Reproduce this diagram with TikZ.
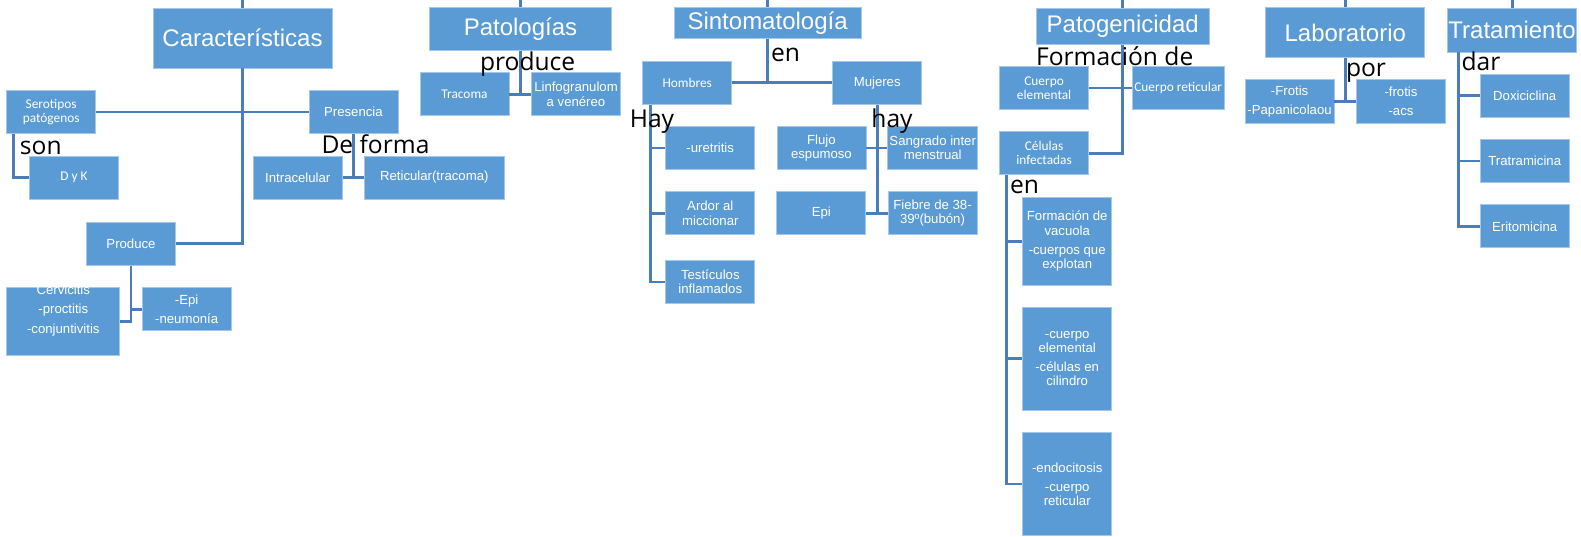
\documentclass[tikz,border=0pt]{standalone}
\usepackage{fontspec}
\setmainfont{Liberation Sans}
\newfontfamily\calfont{Carlito}
\newfontfamily\lblfont{Open Sans}
\usepackage{xcolor}
\definecolor{boxblue}{RGB}{91,155,213}
\definecolor{linkblue}{RGB}{74,126,187}
\newdimen\pxu \pxu=0.02cm

\begin{document}
\begin{tikzpicture} [
    x=0.02cm, y=-0.02cm,
    head/.style   = { rectangle, fill=boxblue, draw=boxblue!55!white, line width=0.4pt,
                      text=white, inner sep=0pt, font=\fontsize{13.66}{16}\selectfont },
    block/.style  = { rectangle, fill=boxblue, draw=boxblue!55!white, line width=0.4pt,
                      text=white, inner sep=1pt, align=center,
                      minimum width=89*\pxu, minimum height=43*\pxu,
                      font=\fontsize{7.5}{8}\selectfont },
    cblock/.style = { block, font=\calfont\fontsize{7.6}{8}\selectfont },
    word/.style   = { anchor=base, inner sep=0pt, font=\lblfont\fontsize{14}{16}\selectfont },
    line/.style   = { draw=linkblue, line width=1.7pt },
  ]
  \path [use as bounding box, fill=white] (0,0) rectangle (1581,537);

  % headings
  \node [head, minimum width=179*\pxu, minimum height=60*\pxu] (carac) at (242.5,38)   {Características};
  \node [head, minimum width=182*\pxu, minimum height=43*\pxu] (patol) at (520.5,29.3) {Patologías};
  \node [head, minimum width=187*\pxu, minimum height=31*\pxu] (sinto) at (767.6,23.3) {Sintomatología};
  \node [head, minimum width=173*\pxu, minimum height=36*\pxu] (patog) at (1122.7,26.2) {Patogenicidad};
  \node [head, minimum width=159*\pxu, minimum height=50*\pxu] (labor) at (1345.3,32.8) {Laboratorio};
  \node [head, minimum width=129*\pxu, minimum height=44*\pxu] (trata) at (1512,30)     {Tratamiento};

  \coordinate (t1) at (242.5,0);
  \coordinate (t2) at (520.5,0);
  \coordinate (t3) at (767.6,0);
  \coordinate (t4) at (1122.7,0);
  \coordinate (t5) at (1345.3,0);
  \coordinate (t6) at (1512,0);

  % caracteristicas
  \node [cblock] (serot)  at (51.2,112)   {Serotipos\\patógenos};
  \node [block]  (presen) at (353.4,112)  {Presencia};
  \node [cblock] (dyk)    at (74,177.5)   {D y K};
  \node [block]  (intrac) at (297.8,177.5) {Intracelular};
  \node [block, minimum width=140*\pxu] (reticu) at (434.3,177.5) {Reticular(tracoma)};
  \node [block]  (produ)  at (131,243.8)  {Produce};
  \node [block, minimum width=113*\pxu, minimum height=68*\pxu, text height=15pt] (cervi) at (63.3,321.5)
        {Cervicitis\\[3pt]-proctitis\\[3pt]-conjuntivitis};
  \node [block]  (epineu) at (186.7,309.2) {-Epi\\[3pt]-neumonía};

  % patologias
  \node [cblock] (tracom) at (464.5,94.3) {Tracoma};
  \node [block]  (linfog) at (576,94.3)   {Linfogranulom\\a venéreo};

  % sintomatologia
  \node [cblock] (hombr) at (687.2,82.8)  {Hombres};
  \node [block]  (mujer) at (877.2,82.8)  {Mujeres};
  \node [block]  (uretr) at (710.2,148)   {-uretritis};
  \node [block]  (ardor) at (710.3,213.3) {Ardor al\\miccionar};
  \node [block]  (testi) at (710.3,282)   {Testículos\\inflamados};
  \node [block]  (flujo) at (821.4,148)   {Flujo\\espumoso};
  \node [block]  (sangr) at (932.7,148)   {Sangrado inter\\menstrual};
  \node [block]  (epimu) at (821.3,213.3) {Epi};
  \node [block]  (fiebr) at (932.5,213.3) {Fiebre de 38-\\39º(bubón)};

  % patogenicidad
  \node [cblock] (celem)  at (1044.1,88)    {Cuerpo\\elemental};
  \node [cblock] (cretic) at (1178.2,88)    {Cuerpo reticular};
  \node [cblock] (celul)  at (1044.1,153.3) {Células\\infectadas};
  \node [block, minimum height=88*\pxu]  (vacuo) at (1067.2,241.2)
        {Formación de\\vacuola\\[3pt]-cuerpos que\\explotan};
  \node [block, minimum height=103*\pxu] (cilin) at (1067.2,358.7)
        {-cuerpo\\elemental\\[3pt]-células en\\cilindro};
  \node [block, minimum height=103*\pxu] (endoc) at (1067.2,484)
        {-endocitosis\\[3pt]-cuerpo\\reticular};

  % laboratorio y tratamiento
  \node [block, minimum height=44*\pxu] (frotA) at (1289.6,101.5) {-Frotis\\[3pt]-Papanicolaou};
  \node [block, minimum height=44*\pxu] (frotB) at (1401,101.5)   {-frotis\\[3pt]-acs};
  \node [block] (doxic) at (1524.7,95.7)  {Doxiciclina};
  \node [block] (tratr) at (1524.7,161)   {Tratramicina};
  \node [block] (eritr) at (1524.7,226.3) {Eritomicina};

  % connect all nodes defined above
  \begin{scope} [every path/.style=line]
    \path (t1) -- (carac);
    \path (t2) -- (patol);
    \path (t3) -- (sinto);
    \path (t4) -- (patog);
    \path (t5) -- (labor);
    \path (t6) -- (trata);

    \path (carac) |- (produ);
    \path (serot) -- (presen);
    \path (serot.south west) ++(7.5,0) |- (dyk);
    \path (presen) -- (presen |- intrac);
    \path (intrac) -- (reticu);
    \path (produ) |- (cervi);
    \path (produ |- epineu) -- (epineu);

    \path (patol) -- (patol |- tracom);
    \path (tracom) -- (linfog);

    \path (sinto) -- (sinto |- hombr);
    \path (hombr) -- (mujer);
    \path (hombr.south west) ++(8.4,0) coordinate (hbus) |- (testi);
    \path (hbus |- uretr) -- (uretr);
    \path (hbus |- ardor) -- (ardor);
    \path (mujer) -- (mujer |- fiebr);
    \path (flujo) -- (sangr);
    \path (epimu) -- (fiebr);

    \path (patog) |- (celul);
    \path (celem) -- (cretic);
    \path (celul.south west) ++(7.5,0) coordinate (cbus) |- (endoc);
    \path (cbus |- vacuo) -- (vacuo);
    \path (cbus |- cilin) -- (cilin);

    \path (labor) -- (labor |- frotA);
    \path (frotA) -- (frotB);
    \path (trata.south west) ++(11.4,0) coordinate (tbus) |- (eritr);
    \path (tbus |- doxic) -- (doxic);
    \path (tbus |- tratr) -- (tratr);
  \end{scope}

  % words on the links
  \node [word] (lson)   at (40.8,154)    {son};
  \node [word] (lforma) at (375.5,153.3) {De forma};
  \node [word] (lprod)  at (527.6,70.5)  {produce};
  \node [word] (lenA)   at (785.5,62)    {en};
  \node [word] (lhayA)  at (652,128)     {Hay};
  \node [word] (lhayB)  at (892,128)     {hay};
  \node [word] (lform)  at (1114.7,65.5) {Formación de};
  \node [word] (lpor)   at (1366,76.8)   {por};
  \node [word] (ldar)   at (1481,70.7)   {dar};
  \node [word] (lenB)   at (1024.6,193.3) {en};
\end{tikzpicture}
\end{document}
